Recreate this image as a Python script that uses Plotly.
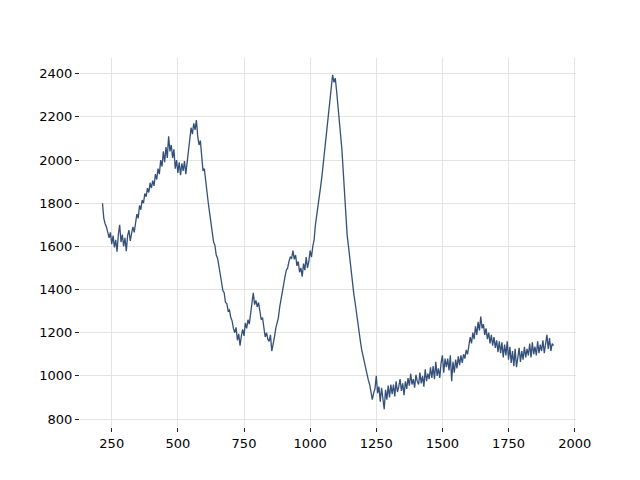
import plotly.graph_objects as go

x_start = 215
x_step = 5
intensity = [
    1800,1730,1705,1690,1665,1640,1665,1610,1650,1595,
    1630,1575,1655,1700,1620,1655,1600,1640,1578,1650,
    1675,1625,1660,1690,1665,1720,1750,1730,1790,1770,
    1815,1800,1845,1830,1870,1850,1895,1870,1905,1880,
    1935,1910,1960,1935,2000,1970,2040,1990,2060,2010,
    2110,2040,2070,2010,2050,1960,2000,1940,1990,1930,
    1985,1950,1995,1935,1990,2050,2110,2150,2120,2170,
    2140,2185,2110,2070,2090,2000,1950,1960,1900,1830,
    1800,1755,1710,1665,1620,1605,1560,1545,1500,1460,
    1435,1395,1385,1340,1335,1300,1305,1270,1255,1220,
    1200,1225,1165,1195,1140,1185,1215,1185,1245,1220,
    1260,1240,1290,1320,1385,1330,1350,1320,1340,1300,
    1260,1270,1210,1180,1200,1170,1160,1190,1115,1160,
    1180,1220,1250,1270,1320,1360,1400,1440,1460,1490,
    1500,1530,1550,1545,1580,1540,1560,1510,1530,1480,
    1500,1460,1520,1490,1550,1500,1530,1580,1550,1600,
    1630,1700,1740,1800,1830,1880,1930,1990,2040,2100,
    2160,2230,2290,2350,2395,2360,2380,2320,2260,2200,
    2120,2050,1950,1830,1740,1650,1600,1540,1490,1430,
    1380,1340,1290,1250,1200,1160,1120,1090,1060,1030,
    1010,980,960,930,890,920,940,1000,920,950,
    880,945,900,845,935,890,955,900,960,915,
    960,905,975,925,950,985,930,965,910,975,
    940,990,955,1010,960,985,945,1005,975,960,
    1015,965,1000,950,1030,975,1010,985,1040,990,
    1045,985,1065,1000,1035,990,1060,1095,1015,1080,
    1040,1080,1025,1095,975,1065,1015,1075,1035,1090,
    1050,1095,1060,1100,1080,1120,1100,1140,1180,1150,
    1200,1170,1230,1190,1250,1210,1275,1220,1240,1190,
    1220,1170,1200,1150,1190,1140,1180,1130,1165,1110,
    1160,1105,1155,1085,1145,1095,1160,1075,1135,1060,
    1115,1045,1125,1040,1095,1130,1065,1115,1075,1135,
    1085,1125,1095,1150,1085,1155,1100,1135,1095,1160,
    1105,1145,1115,1165,1105,1155,1190,1125,1175,1115,
    1150,1140,
]
position = [x_start + x_step * i for i in range(len(intensity))]

x_ticks = [250, 500, 750, 1000, 1250, 1500, 1750, 2000]
y_ticks = [800, 1000, 1200, 1400, 1600, 1800, 2000, 2200, 2400]

fig = go.Figure()
fig.add_trace(go.Scatter(
    x=position, y=intensity, mode="lines",
    line=dict(color="#34507a", width=1.3),
    showlegend=False,
))

axis_common = dict(
    showline=False, zeroline=False, showgrid=True,
    gridcolor="#e3e3e3", gridwidth=1,
    ticks="outside", ticklen=4, tickwidth=1, tickcolor="#222222",
    tickfont=dict(family="DejaVu Sans", size=13, color="#000000"),
)
fig.update_layout(
    width=632, height=472,
    margin=dict(l=72, r=64, t=50, b=53),
    plot_bgcolor="white", paper_bgcolor="white",
    xaxis=dict(range=[130, 2005], tickvals=x_ticks, **axis_common),
    yaxis=dict(range=[763, 2473], tickvals=y_ticks, **axis_common),
)
fig.write_html("out.html")
